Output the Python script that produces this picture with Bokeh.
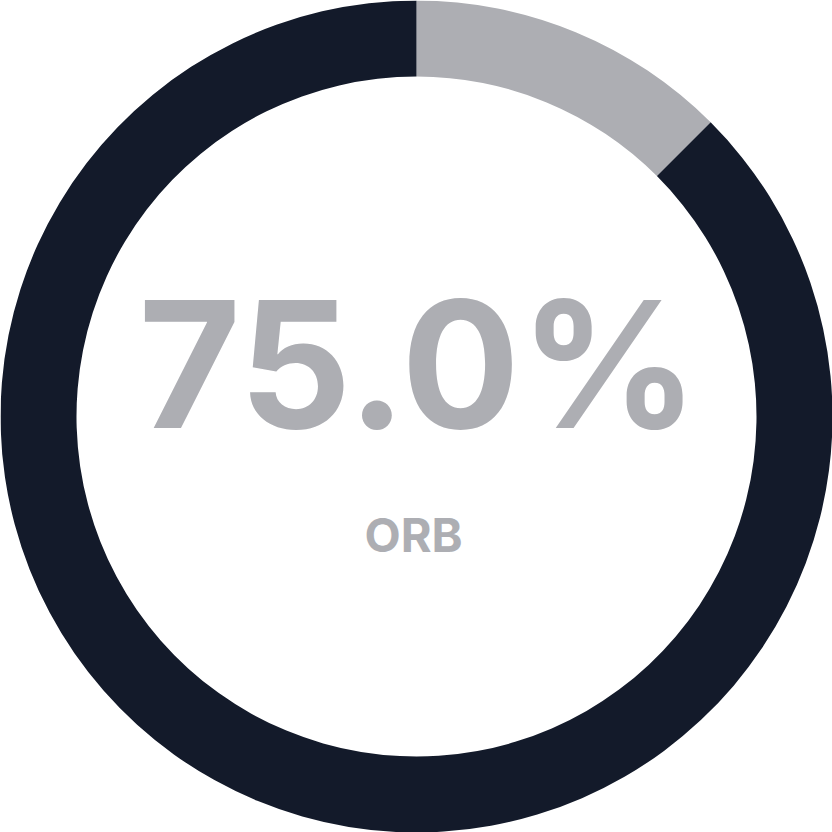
from math import pi
from bokeh.plotting import figure
from bokeh.models import ColumnDataSource, Range1d
from bokeh.core.properties import value
from bokeh.embed import file_html
from bokeh.resources import INLINE

# data
segments = ["Other", "ORB"]
shares = [12.5, 87.5]
colors = ["#adaeb3", "#131a2a"]
big_label = "75.0%"
small_label = "ORB"

total = sum(shares)
starts, ends = [], []
acc = 0.0
for s in shares:
    starts.append(pi / 2 - 2 * pi * acc / total)
    acc += s
    ends.append(pi / 2 - 2 * pi * acc / total)

src = ColumnDataSource(dict(seg=segments, share=shares, color=colors, start=starts, end=ends))

p = figure(width=832, height=832, output_backend="svg", toolbar_location=None,
           x_range=Range1d(-416, 416), y_range=Range1d(-416, 416),
           min_border=0, outline_line_color=None, background_fill_color="white",
           border_fill_color="white")
p.axis.visible = False
p.grid.visible = False

p.annular_wedge(x=0, y=0, inner_radius=340, outer_radius=416, start_angle="start",
                end_angle="end", direction="clock", color="color", line_color=None,
                source=src)

p.text(x=[2], y=[53], text=[big_label], text_align="center", text_baseline="alphabetic",
       text_font=value("Inter"), text_font_style="bold", text_font_size="176px",
       text_color="#adaeb3")
p.text(x=[-3], y=[-118], text=[small_label], text_align="center", text_baseline="alphabetic",
       text_font=value("Inter"), text_font_style="bold", text_font_size="47px",
       text_color="#adaeb3")

open("out.html", "w").write(file_html(p, INLINE))
